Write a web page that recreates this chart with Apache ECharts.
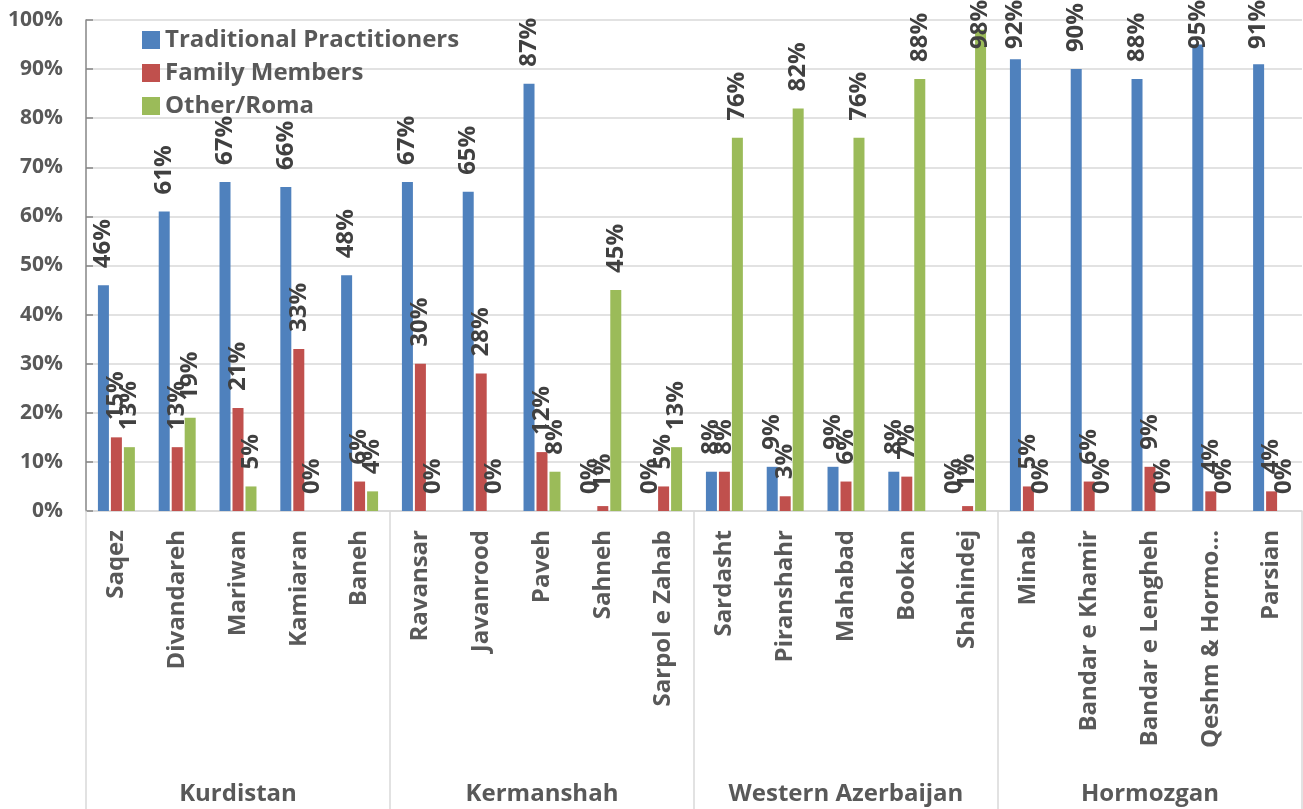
<!DOCTYPE html>
<html>
<head>
<meta charset="utf-8">
<script src="https://cdn.jsdelivr.net/npm/echarts@6/dist/echarts.min.js"></script>
<style>
  html, body { margin: 0; padding: 0; background: #ffffff; }
  #chart { width: 1303px; height: 809px; }
</style>
</head>
<body>
<div id="chart"></div>
<script>
// Cities, grouped by province (five cities per province)
const cities = [
  'Saqez', 'Divandareh', 'Mariwan', 'Kamiaran', 'Baneh',
  'Ravansar', 'Javanrood', 'Paveh', 'Sahneh', 'Sarpol e Zahab',
  'Sardasht', 'Piranshahr', 'Mahabad', 'Bookan', 'Shahindej',
  'Minab', 'Bandar e Khamir', 'Bandar e Lengheh', 'Qeshm & Hormo\u2026', 'Parsian'
];
const provinces = ['Kurdistan', 'Kermanshah', 'Western Azerbaijan', 'Hormozgan'];

// Share (%) of each provider type per city
const traditionalPractitioners = [46, 61, 67, 66, 48, 67, 65, 87, 0, 0, 8, 9, 9, 8, 0, 92, 90, 88, 95, 91];
const familyMembers            = [15, 13, 21, 33, 6, 30, 28, 12, 1, 5, 8, 3, 6, 7, 1, 5, 6, 9, 4, 4];
const otherRoma                = [13, 19, 5, 0, 4, 0, 0, 8, 45, 13, 76, 82, 76, 88, 98, 0, 0, 0, 0, 0];

const seriesNames = ['Traditional Practitioners', 'Family Members', 'Other/Roma'];
const seriesColors = ['#4F81BD', '#C0504D', '#9BBB59'];

const FONT = '"Open Sans", "Liberation Sans", sans-serif';

const valueLabel = {
  show: true,
  position: 'top',
  distance: 17,
  rotate: 90,
  align: 'left',
  verticalAlign: 'middle',
  formatter: '{c}%',
  color: '#404040',
  fontFamily: FONT,
  fontWeight: 'bold',
  fontSize: 24
};

// Keep vertical value labels inside the canvas: a label that would run
// past the top edge is slid down so its top sits at the edge.
function keepLabelInside(params) {
  const r = params.labelRect;
  if (r.y < 0) {
    return { y: r.height };
  }
  return {};
}

function barSeries(name, data, color) {
  return {
    name: name,
    type: 'bar',
    xAxisIndex: 0,
    yAxisIndex: 0,
    data: data,
    barWidth: 11,
    barGap: '18%',
    itemStyle: { color: color },
    label: valueLabel,
    labelLayout: keepLabelInside,
    emphasis: { disabled: true }
  };
}

const chart = echarts.init(document.getElementById('chart'), null, { renderer: 'canvas' });

chart.setOption({
  animation: false,
  backgroundColor: '#ffffff',
  color: seriesColors,
  legend: {
    orient: 'vertical',
    left: 137,
    top: 23,
    itemWidth: 18,
    itemHeight: 18,
    itemGap: 9,
    icon: 'rect',
    textStyle: {
      color: '#595959',
      fontFamily: FONT,
      fontWeight: 'bold',
      fontSize: 24
    },
    data: seriesNames
  },
  grid: {
    left: 86,
    right: 1,
    top: 20,
    bottom: 298,
    containLabel: false
  },
  xAxis: [
    {
      type: 'category',
      data: cities,
      position: 'bottom',
      axisLine: { show: true, lineStyle: { color: '#d9d9d9', width: 1.5 } },
      axisTick: { show: false },
      axisLabel: {
        rotate: 90,
        margin: 19,
        interval: 0,
        color: '#595959',
        fontFamily: FONT,
        fontWeight: 'bold',
        fontSize: 24
      }
    },
    {
      type: 'category',
      data: provinces,
      position: 'bottom',
      offset: 0,
      axisLine: { show: false },
      axisTick: { show: true, length: 298, lineStyle: { color: '#d9d9d9', width: 1.5 } },
      axisLabel: {
        margin: 271,
        interval: 0,
        color: '#595959',
        fontFamily: FONT,
        fontWeight: 'bold',
        fontSize: 24
      }
    }
  ],
  yAxis: {
    type: 'value',
    min: 0,
    max: 100,
    interval: 10,
    axisLine: { show: true, lineStyle: { color: '#868686', width: 1.5 } },
    axisTick: { show: true, inside: true, length: 7, lineStyle: { color: '#868686', width: 1.5 } },
    splitLine: { show: true, lineStyle: { color: '#d9d9d9', width: 1.5 } },
    axisLabel: {
      formatter: '{value}%',
      margin: 23,
      color: '#595959',
      fontFamily: FONT,
      fontWeight: 'bold',
      fontSize: 21
    }
  },
  series: [
    barSeries(seriesNames[0], traditionalPractitioners, seriesColors[0]),
    barSeries(seriesNames[1], familyMembers, seriesColors[1]),
    barSeries(seriesNames[2], otherRoma, seriesColors[2])
  ]
});
</script>
</body>
</html>
